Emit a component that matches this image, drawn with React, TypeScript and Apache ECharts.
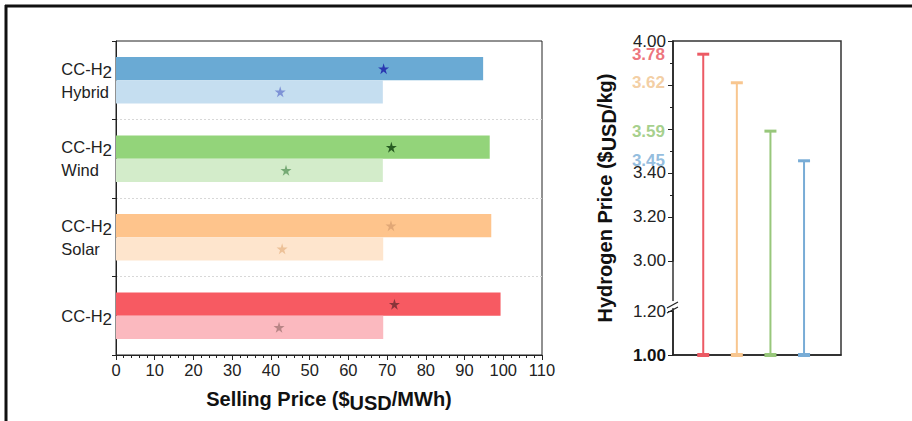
import React, { useEffect, useRef } from 'react';
import * as echarts from 'echarts';

// ---------- data ----------
const categories = ['CC-H2\nHybrid', 'CC-H2\nWind', 'CC-H2\nSolar', 'CC-H2'];
const sellingHigh = [94.8, 96.5, 96.9, 99.3];
const sellingLow = [68.9, 68.9, 69.0, 69.0];
const starHigh = [69.1, 71.1, 71.0, 71.9];
const starLow = [42.4, 43.9, 42.9, 42.1];

const h2Positions = [1, 2, 3, 4];
const h2Plotted = [3.94, 3.81, 3.59, 3.455];
const h2Labels = ['3.78', '3.62', '3.59', '3.45'];
const h2Base = 1.0;
const h2BreakStart = 1.2;
const h2BreakEnd = 3.0;
const h2TickStep = 0.2;

// ---------- styles ----------
const darkColors = ['#6aaad4', '#93d47a', '#fec48c', '#f75a62'];
const lightColors = ['#c5def0', '#d3ecca', '#fee5cd', '#fbb9bf'];
const starDarkColors = ['#1a1aa8', '#0d3d0d', '#d9a070', '#6b2a30'];
const starLightColors = ['#6b7fd0', '#5f9a5f', '#e8b88a', '#a87878'];
const lollipopColors = ['#ec5a64', '#f8c68f', '#98c77b', '#78acd6'];
const labelColors = ['#e8505b', '#f0c28c', '#8fc46f', '#78acd6'];

const FONT = "'Liberation Sans', Arial, Helvetica, sans-serif";
const STAR = 'path://M50,0 L61,35 L98,35 L68,57 L79,91 L50,70 L21,91 L32,57 L2,35 L39,35 Z';

function catLabel(v: string) {
  return v
    .split('\n')
    .map((line) => (line === 'CC-H2' ? '{n|CC-H}{s|2}' : `{n|${line}}`))
    .join('\n');
}

function h2TickLabel(v: number) {
  const k = v / h2TickStep;
  if (Math.abs(k - Math.round(k)) > 1e-6) return '';
  if (h2Plotted.some((p) => Math.abs(p - v) < 0.03)) return '';
  if (Math.abs(v - h2Base) < 1e-6) return '{b|' + v.toFixed(2) + '}';
  return v.toFixed(2);
}

export default function App() {
  const ref = useRef<HTMLDivElement>(null);
  useEffect(() => {
    if (!ref.current) return;
    const chart = echarts.init(ref.current, undefined, { renderer: 'svg' });
    const frame = [
      { type: 'line', id: 'ft', shape: { x1: 5, y1: 6, x2: 912, y2: 6 }, style: { stroke: '#111', lineWidth: 3 } },
      { type: 'line', id: 'fl', shape: { x1: 6, y1: 5, x2: 6, y2: 421 }, style: { stroke: '#111', lineWidth: 3 } },
    ];
    const titleRich = {
      s: { fontSize: 20, fontWeight: 'bold', color: '#111', padding: [9, 0, 0, 0], fontFamily: FONT },
    };
    const option: any = {
      animation: false,
      backgroundColor: '#fff',
      textStyle: { fontFamily: FONT },
      grid: [
        { left: 116, top: 41, width: 426, height: 314, show: true, borderColor: '#222', borderWidth: 1, containLabel: false },
        { left: 673, top: 41, width: 168, height: 314, show: true, borderColor: '#333', borderWidth: 1.5, containLabel: false },
      ],
      xAxis: [
        {
          type: 'value', gridIndex: 0, min: 0, max: 110, interval: 10,
          axisLine: { show: true, lineStyle: { color: '#222', width: 1 } },
          axisTick: { show: true, inside: false, length: 5, lineStyle: { color: '#222' } },
          minorTick: { show: true, splitNumber: 5, length: 3, lineStyle: { color: '#222' } },
          splitLine: { show: false },
          axisLabel: { fontSize: 16.5, color: '#222', margin: 6, fontFamily: FONT },
          name: 'Selling Price ($' + '{s|USD}' + '/MWh)',
          nameLocation: 'middle', nameGap: 29,
          nameTextStyle: { fontSize: 20, fontWeight: 'bold', color: '#111', fontFamily: FONT, rich: titleRich },
        },
        {
          type: 'value', gridIndex: 1, min: 0.1, max: 5.1,
          axisLine: { show: true, lineStyle: { color: '#222', width: 1.5 } },
          axisTick: { show: false }, axisLabel: { show: false }, splitLine: { show: false },
        },
      ],
      yAxis: [
        {
          type: 'category', gridIndex: 0, data: categories, inverse: true,
          axisLine: { show: true, lineStyle: { color: '#222', width: 1 } },
          axisTick: { show: true, inside: false, length: 4, lineStyle: { color: '#222' } },
          splitLine: {
            show: true, interval: (idx: number) => idx !== 0,
            lineStyle: { color: '#d8d8d8', type: [2, 2], width: 1 },
          },
          axisLabel: {
            margin: 4, color: '#222', formatter: catLabel,
            rich: {
              n: { fontSize: 16.5, color: '#222', fontFamily: FONT, lineHeight: 23, align: 'left' },
              s: { fontSize: 17, color: '#222', fontFamily: FONT, lineHeight: 23, padding: [7, 0, 0, 0], align: 'left' },
            },
          },
        },
        {
          type: 'value', gridIndex: 1, min: 1, max: 4, interval: h2TickStep,
          breaks: [{ start: h2BreakStart, end: h2BreakEnd, gap: '16%' }],
          breakArea: { show: false },
          axisLine: { show: true, lineStyle: { color: '#222', width: 1.5 } },
          axisTick: { show: true, inside: false, length: 5, lineStyle: { color: '#222' } },
          minorTick: { show: true, splitNumber: 2, length: 3, lineStyle: { color: '#222' } },
          splitLine: { show: false },
          axisLabel: {
            margin: 7, fontSize: 17, color: '#222', fontFamily: FONT, hideOverlap: false,
            formatter: h2TickLabel,
            rich: { b: { fontSize: 17, fontWeight: 'bold', color: '#111', fontFamily: FONT } },
          },
          name: 'Hydrogen Price ($' + '{s|USD}' + '/kg)',
          nameLocation: 'middle', nameGap: 54,
          nameTextStyle: { fontSize: 20, fontWeight: 'bold', color: '#111', fontFamily: FONT, rich: titleRich },
        },
      ],
      series: [
        {
          type: 'bar', xAxisIndex: 0, yAxisIndex: 0, barGap: '0%', barCategoryGap: '41%',
          data: sellingHigh.map((v, i) => ({ value: v, itemStyle: { color: darkColors[i] } })),
        },
        {
          type: 'bar', xAxisIndex: 0, yAxisIndex: 0, barGap: '0%', barCategoryGap: '41%',
          data: sellingLow.map((v, i) => ({ value: v, itemStyle: { color: lightColors[i] } })),
        },
        {
          type: 'scatter', xAxisIndex: 0, yAxisIndex: 0, symbol: STAR, symbolSize: 11, symbolOffset: [0, -11.6],
          data: starHigh.map((v, i) => ({ value: [v, i], itemStyle: { color: starDarkColors[i] } })),
          z: 5,
        },
        {
          type: 'scatter', xAxisIndex: 0, yAxisIndex: 0, symbol: STAR, symbolSize: 11, symbolOffset: [0, 11.6],
          data: starLow.map((v, i) => ({ value: [v, i], itemStyle: { color: starLightColors[i] } })),
          z: 5,
        },
        {
          type: 'custom', xAxisIndex: 1, yAxisIndex: 1, clip: false,
          data: h2Plotted.map((v, i) => [h2Positions[i], v]),
          renderItem: (params: any, api: any) => {
            const x = api.value(0);
            const v = api.value(1);
            const top = api.coord([x, v]);
            const bot = api.coord([x, h2Base]);
            const c = lollipopColors[params.dataIndex];
            return {
              type: 'group',
              children: [
                { type: 'line', shape: { x1: top[0], y1: top[1], x2: bot[0], y2: bot[1] }, style: { stroke: c, lineWidth: 2 } },
                { type: 'rect', shape: { x: top[0] - 6, y: top[1] - 1.5, width: 12, height: 3 }, style: { fill: c } },
                { type: 'rect', shape: { x: bot[0] - 6, y: bot[1] - 2, width: 12, height: 4 }, style: { fill: c } },
              ],
            };
          },
          z: 4,
        },
        {
          type: 'scatter', xAxisIndex: 1, yAxisIndex: 1, symbolSize: 0, clip: false,
          data: h2Plotted.map((v, i) => ({
            value: [0.1, v],
            label: {
              show: true, position: 'left', distance: 8, formatter: h2Labels[i],
              color: labelColors[i], fontSize: 17, fontWeight: 'bold', fontFamily: FONT,
            },
          })),
          z: 6,
        },
      ],
      graphic: frame,
    };
    chart.setOption(option);
    try {
      const yb = chart.convertToPixel({ yAxisIndex: 1 } as any, h2BreakStart) as number;
      const xa = chart.convertToPixel({ xAxisIndex: 1 } as any, 0.1) as number;
      if (isFinite(yb) && isFinite(xa)) {
        chart.setOption({
          graphic: [
            ...frame,
            { type: 'rect', id: 'bw', shape: { x: xa - 3, y: yb - 10, width: 6, height: 7 }, style: { fill: '#fff' }, z: 50 },
            { type: 'line', id: 'b1', shape: { x1: xa - 6, y1: yb - 3, x2: xa + 5, y2: yb - 9 }, style: { stroke: '#222', lineWidth: 1.2 }, z: 51 },
            { type: 'line', id: 'b2', shape: { x1: xa - 6, y1: yb + 2, x2: xa + 5, y2: yb - 4 }, style: { stroke: '#222', lineWidth: 1.2 }, z: 51 },
          ],
        });
      }
    } catch (e) {
      // ignore
    }
    return () => chart.dispose();
  }, []);
  return <div ref={ref} style={{ position: 'absolute', left: 0, top: 0, width: 912, height: 421, background: '#fff' }} />;
}
